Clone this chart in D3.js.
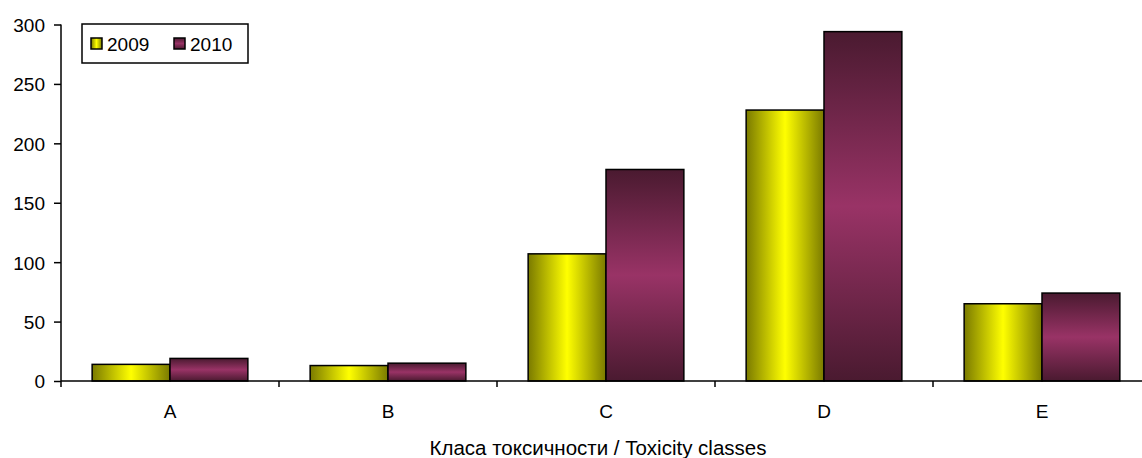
<!DOCTYPE html>
<html>
<head>
    <meta charset="utf-8">
    <title>Toxicity classes</title>
    <script type="text/javascript" src="https://cdn.jsdelivr.net/npm/d3@7"></script>
    <style type="text/css">
        html, body { margin: 0; background: #fff; }
        svg { display: block; font-family: "Liberation Sans", Arial, sans-serif; }
        .axis path, .axis line { stroke: #000; stroke-width: 1.5; }
        .axis text { font-size: 19px; fill: #000; }
        .bar { stroke: #000; stroke-width: 1.5; }
    </style>
</head>
<body>
<svg></svg>
<script type="text/javascript">
    var categories = ["A", "B", "C", "D", "E"];
    var years = ["2009", "2010"];
    var values2009 = [14, 13, 107, 228, 65];
    var values2010 = [19, 15, 178, 294, 74];
    var yTicks = [0, 50, 100, 150, 200, 250, 300];
    var xTitle = "Класа токсичности / Toxicity classes";

    var w = 1142, h = 458;
    // plot edges (the last band runs a little past the window, as in the source)
    var mLeft = 61, mRight = 1151, mTop = 24.5, mBottom = 381;

    var svg = d3.select("svg").attr("width", w).attr("height", h);

    var defs = svg.append("defs");
    var yellow = defs.append("linearGradient").attr("id", "g2009")
        .attr("x1", "0%").attr("x2", "100%").attr("y1", "0%").attr("y2", "0%");
    yellow.append("stop").attr("offset", "0%").attr("stop-color", "#7a7a00");
    yellow.append("stop").attr("offset", "50%").attr("stop-color", "#ffff00");
    yellow.append("stop").attr("offset", "100%").attr("stop-color", "#7a7a00");

    var purple = defs.append("linearGradient").attr("id", "g2010")
        .attr("x1", "0%").attr("x2", "0%").attr("y1", "0%").attr("y2", "100%");
    purple.append("stop").attr("offset", "0%").attr("stop-color", "#4a1a30");
    purple.append("stop").attr("offset", "50%").attr("stop-color", "#993366");
    purple.append("stop").attr("offset", "100%").attr("stop-color", "#4a1a30");

    var x = d3.scaleBand().domain(categories).range([mLeft, mRight]).paddingInner(0).paddingOuter(0);
    var xs = d3.scaleBand().domain(years).range([0, x.bandwidth()]).paddingInner(0).paddingOuter(0.4);
    var y = d3.scaleLinear().domain([0, 300]).range([mBottom, mTop]);

    // y axis
    svg.append("g").attr("class", "axis")
        .attr("transform", "translate(" + mLeft + ",0)")
        .call(d3.axisLeft(y).tickValues(yTicks).tickSize(7).tickPadding(9).tickSizeOuter(0))
        .call(function(g){ g.select(".domain").attr("d", "M0," + mTop + "V" + (mBottom + 6)); })
        .call(function(g){ g.selectAll("text").attr("dy", "0.36em"); });

    // bars
    var rows = categories.map(function(c, i){
        return {cat: c, vals: [{year: "2009", v: values2009[i]}, {year: "2010", v: values2010[i]}]};
    });

    var groups = svg.append("g").selectAll("g").data(rows).enter().append("g")
        .attr("transform", function(d){ return "translate(" + x(d.cat) + ",0)"; });

    groups.selectAll("rect").data(function(d){ return d.vals; }).enter().append("rect")
        .attr("class", "bar")
        .attr("x", function(d){ return xs(d.year); })
        .attr("width", xs.bandwidth())
        .attr("y", function(d){ return y(d.v); })
        .attr("height", function(d){ return y(0) - y(d.v); })
        .attr("fill", function(d){ return "url(#g" + d.year + ")"; });

    // x axis
    var xAxis = svg.append("g").attr("class", "axis");
    xAxis.append("line").attr("x1", mLeft).attr("x2", mRight).attr("y1", mBottom).attr("y2", mBottom);
    xAxis.selectAll(".tk").data(categories.slice(1)).enter().append("line")
        .attr("x1", function(d){ return x(d); }).attr("x2", function(d){ return x(d); })
        .attr("y1", mBottom).attr("y2", mBottom + 6);
    xAxis.selectAll("text").data(categories).enter().append("text")
        .attr("x", function(d){ return x(d) + x.bandwidth() / 2; })
        .attr("y", 418).attr("text-anchor", "middle").text(function(d){ return d; });

    svg.append("text").attr("x", 598).attr("y", 455).attr("text-anchor", "middle")
        .style("font-size", "20.5px").text(xTitle);

    // legend
    var legend = svg.append("g").attr("transform", "translate(82,24)");
    legend.append("rect").attr("width", 166).attr("height", 39)
        .attr("fill", "#fff").attr("stroke", "#000").attr("stroke-width", 1.5);
    var item = legend.selectAll(".item").data(years).enter().append("g")
        .attr("transform", function(d, i){ return "translate(" + (9 + i * 83) + ",14)"; });
    item.append("rect").attr("width", 11).attr("height", 11)
        .attr("fill", function(d){ return "url(#g" + d + ")"; })
        .attr("stroke", "#000").attr("stroke-width", 1.5);
    item.append("text").attr("x", 16).attr("y", 12.5).style("font-size", "19px")
        .text(function(d){ return d; });
</script>
</body>
</html>
